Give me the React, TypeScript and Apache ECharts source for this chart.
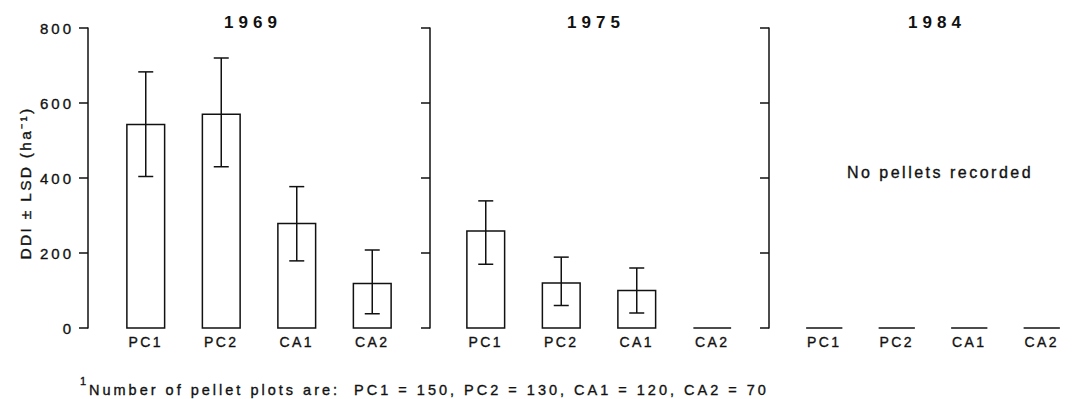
import React, { useEffect, useRef } from "react";
import * as echarts from "echarts";

const categories = ["PC1", "PC2", "CA1", "CA2"];
const years = ["1969", "1975", "1984"];
const yTicks = [0, 200, 400, 600, 800];

const ddi1969 = [543, 570, 279, 119];
const low1969 = [404, 430, 179, 38];
const high1969 = [683, 720, 377, 208];

const ddi1975 = [259, 120, 100, 0];
const low1975: (number | null)[] = [170, 60, 40, null];
const high1975: (number | null)[] = [339, 189, 160, null];

const ddi1984 = [0, 0, 0, 0];
const low1984: (number | null)[] = [null, null, null, null];
const high1984: (number | null)[] = [null, null, null, null];

const plotCounts = [150, 130, 120, 70];
const noDataNote = "No pellets recorded";
const yName = "DDI \u00b1 LSD (ha\u207b\u00b9)";

const INK = "#111111";
const FONT = "'Liberation Sans', Arial, Helvetica, sans-serif";
const THICK = 0.35;

const css = `
#chartbox text[style*="17px"] { letter-spacing: 5px; }
#chartbox text[style*="16px"] { letter-spacing: 2.5px; }
#chartbox text[style*="15px"] { letter-spacing: 3px; }
#chartbox text[style*="14.5px"] { letter-spacing: 3px; }
#chartbox text[style*="14px"] { letter-spacing: 2.5px; }
#chartbox text[style*="15.5px"] { letter-spacing: 2.3px; }
`;

export default function App() {
  const ref = useRef<HTMLDivElement>(null);
  useEffect(() => {
    const chart = echarts.init(ref.current!, null, { renderer: "svg" });
    const panels = [
      { mean: ddi1969, low: low1969, high: high1969 },
      { mean: ddi1975, low: low1975, high: high1975 },
      { mean: ddi1984, low: low1984, high: high1984 },
    ];
    const gridLeft = [108, 448, 788];
    const axisOffset = [20, 18, 19];
    const titleX = [253, 596, 937];

    const grids = panels.map((_, k) => ({
      left: gridLeft[k],
      top: 28,
      width: 302,
      height: 300,
      containLabel: false,
    }));
    const xAxes = panels.map((_, k) => ({
      type: "category",
      gridIndex: k,
      data: categories,
      axisLine: { show: false },
      axisTick: { show: false },
      axisLabel: {
        color: INK,
        fontSize: 14,
        fontFamily: FONT,
        margin: 7,
        textBorderColor: INK,
        textBorderWidth: THICK,
      },
    }));
    const yAxes = panels.map((_, k) => ({
      type: "value",
      gridIndex: k,
      min: yTicks[0],
      max: yTicks[yTicks.length - 1],
      interval: yTicks[1] - yTicks[0],
      offset: axisOffset[k],
      axisLine: { show: true, lineStyle: { color: INK, width: 1.5 } },
      axisTick: { show: true, length: 9, lineStyle: { color: INK, width: 1.5 } },
      splitLine: { show: false },
      axisLabel: {
        show: k === 0,
        color: INK,
        fontSize: 15,
        fontFamily: FONT,
        margin: 14,
        textBorderColor: INK,
        textBorderWidth: THICK,
      },
    }));

    const series: any[] = [];
    panels.forEach((p, k) => {
      series.push({
        type: "custom",
        xAxisIndex: k,
        yAxisIndex: k,
        data: categories.map((c, i) => [c, p.mean[i]]),
        renderItem: (params: any, api: any) => {
          const v = api.value(1);
          const idx = api.value(0);
          const base = api.coord([idx, 0]);
          const top = api.coord([idx, v]);
          const bw = api.size([1, 0])[0] * 0.5;
          if (v > 0) {
            return {
              type: "rect",
              shape: { x: base[0] - bw / 2, y: top[1], width: bw, height: base[1] - top[1] },
              style: { fill: "#fff", stroke: INK, lineWidth: 1.5 },
            };
          }
          return {
            type: "line",
            shape: { x1: base[0] - bw / 2, y1: base[1], x2: base[0] + bw / 2, y2: base[1] },
            style: { stroke: INK, lineWidth: 1.5 },
          };
        },
      });
      const errData = categories
        .map((c, i) => [c, p.low[i], p.high[i]])
        .filter((d) => d[1] !== null && d[2] !== null);
      if (errData.length) {
        series.push({
          type: "custom",
          xAxisIndex: k,
          yAxisIndex: k,
          encode: { x: 0, y: [1, 2] },
          data: errData,
          z: 3,
          renderItem: (params: any, api: any) => {
            const idx = api.value(0);
            const lo = api.coord([idx, api.value(1)]);
            const hi = api.coord([idx, api.value(2)]);
            const cw = 7.5;
            const st = { stroke: INK, lineWidth: 1.5 };
            return {
              type: "group",
              children: [
                { type: "line", shape: { x1: lo[0], y1: lo[1], x2: hi[0], y2: hi[1] }, style: st },
                { type: "line", shape: { x1: lo[0] - cw, y1: lo[1], x2: lo[0] + cw, y2: lo[1] }, style: st },
                { type: "line", shape: { x1: hi[0] - cw, y1: hi[1], x2: hi[0] + cw, y2: hi[1] }, style: st },
              ],
            };
          },
        });
      }
    });

    const footnote =
      "Number of pellet plots are:  " +
      categories.map((c, i) => `${c} = ${plotCounts[i]}`).join(", ");

    const txt = (extra: any) => ({
      fill: INK,
      fontFamily: FONT,
      stroke: INK,
      lineWidth: THICK,
      ...extra,
    });

    const graphic: any[] = [
      ...years.map((y, k) => ({
        type: "text",
        x: titleX[k],
        y: 22,
        style: {
          text: y,
          fill: INK,
          fontSize: 17,
          fontWeight: "bold",
          fontFamily: FONT,
          textAlign: "center",
          textVerticalAlign: "middle",
        },
      })),
      {
        type: "text",
        x: 940,
        y: 172,
        style: txt({
          text: noDataNote,
          fontSize: 16,
          textAlign: "center",
          textVerticalAlign: "middle",
        }),
      },
      {
        type: "text",
        x: 25,
        y: 183,
        rotation: Math.PI / 2,
        style: txt({
          text: yName,
          fontSize: 15.5,
          textAlign: "center",
          textVerticalAlign: "middle",
        }),
      },
      {
        type: "text",
        x: 80,
        y: 381,
        style: txt({
          text: "1",
          fontSize: 11,
          textAlign: "left",
          textVerticalAlign: "middle",
        }),
      },
      {
        type: "text",
        x: 89,
        y: 390,
        style: txt({
          text: footnote,
          fontSize: 14.5,
          textAlign: "left",
          textVerticalAlign: "middle",
        }),
      },
    ];

    chart.setOption({
      animation: false,
      backgroundColor: "#fff",
      grid: grids,
      xAxis: xAxes,
      yAxis: yAxes,
      series,
      graphic,
    });
    return () => chart.dispose();
  }, []);

  return (
    <>
      <style>{css}</style>
      <div
        id="chartbox"
        ref={ref}
        style={{ position: "fixed", left: 0, top: 0, width: 1078, height: 399, background: "#fff" }}
      />
    </>
  );
}
